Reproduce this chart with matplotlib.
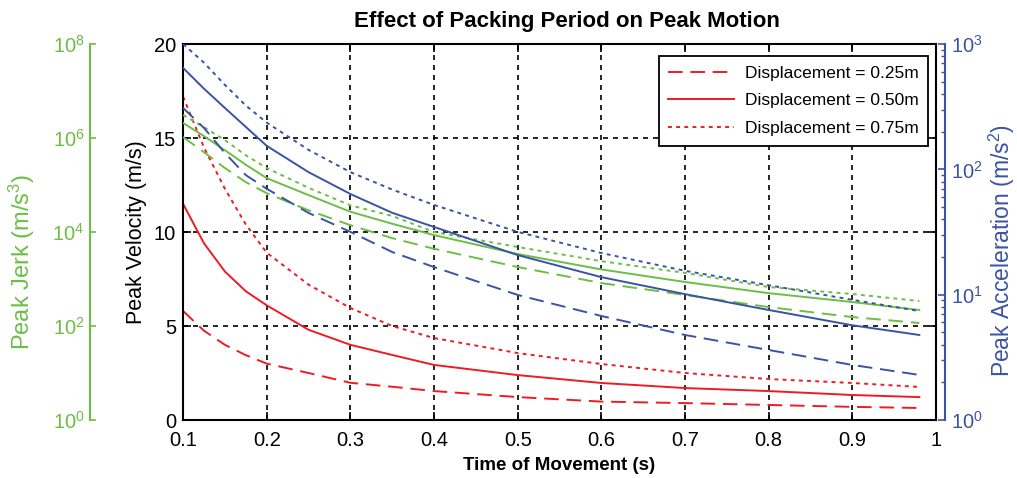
import matplotlib
matplotlib.use("Agg")
import matplotlib.pyplot as plt
from matplotlib.ticker import NullLocator, LogLocator, FixedLocator

plt.rcParams['font.family'] = ['Liberation Sans', 'DejaVu Sans']
plt.rcParams['mathtext.fontset'] = 'custom'
plt.rcParams['mathtext.rm'] = 'Liberation Sans'
plt.rcParams['mathtext.it'] = 'Liberation Sans'
plt.rcParams['mathtext.default'] = 'regular'

# time of movement (s)
t = [0.1, 0.125, 0.15, 0.175, 0.2, 0.25, 0.3, 0.35, 0.4, 0.5, 0.6, 0.7, 0.8, 0.9, 0.98]

# peak velocity (m/s) for 0.25, 0.50, 0.75 m
vel_025 = [5.8, 4.75, 4.0, 3.45, 3.0, 2.5, 1.98, 1.77, 1.54, 1.22, 0.98, 0.9, 0.8, 0.7, 0.64]
vel_050 = [11.5, 9.4, 7.9, 6.85, 6.1, 4.8, 4.0, 3.46, 2.93, 2.39, 1.97, 1.70, 1.54, 1.33, 1.22]
vel_075 = [17.2, 14.5, 12.3, 10.4, 8.9, 7.2, 5.96, 5.0, 4.36, 3.56, 2.98, 2.5, 2.18, 1.97, 1.76]

# peak acceleration (m/s^2)
acc_025 = [309, 214, 135, 90, 70, 44.9, 31.7, 21.9, 16.6, 9.95, 6.76, 4.77, 3.62, 2.75, 2.29]
acc_050 = [645, 440, 309, 218, 154, 95, 63.6, 45, 34.7, 20.7, 13.8, 10.1, 7.55, 5.7, 4.77]
acc_075 = [1000, 710, 472, 323, 236, 143, 95, 69, 52, 31.7, 21.5, 15.5, 11.9, 9.1, 7.4]

# peak jerk (m/s^3)
jerk_025 = [1.05e6, 5.0e5, 2.3e5, 1.15e5, 6.7e4, 2.9e4, 1.4e4, 7.4e3, 4.4e3, 1.8e3, 820, 457, 253, 155, 116]
jerk_050 = [2.09e6, 1.1e6, 5.5e5, 2.7e5, 1.4e5, 6.1e4, 2.7e4, 1.5e4, 8.6e3, 3.4e3, 1.6e3, 865, 500, 324, 219]
jerk_075 = [3.09e6, 1.7e6, 9.0e5, 4.3e5, 2.3e5, 8.7e4, 3.7e4, 2.2e4, 1.0e4, 4.8e3, 2.4e3, 1.35e3, 676, 479, 340]

labels = ['Displacement = 0.25m', 'Displacement = 0.50m', 'Displacement = 0.75m']
xticks = [0.1, 0.2, 0.3, 0.4, 0.5, 0.6, 0.7, 0.8, 0.9, 1.0]
xtick_labels = ['0.1', '0.2', '0.3', '0.4', '0.5', '0.6', '0.7', '0.8', '0.9', '1']

red = '#ED1C24'
blue = '#3A53A4'
green = '#6CBE45'
dashed = (0, (7.5, 4))
dotted = (0, (2, 2.2))
styles = [dashed, '-', dotted]

fig = plt.figure(figsize=(10.17, 4.78), dpi=100)
ax = fig.add_axes([0.18, 0.1213, 0.7404, 0.7866])

ax_j = ax.twinx()
ax_a = ax.twinx()

lines = []
for v, ls, lab in zip([vel_025, vel_050, vel_075], styles, labels):
    l, = ax.plot(t, v, color=red, lw=1.4, linestyle=ls, label=lab)
    lines.append(l)
for a, ls in zip([acc_025, acc_050, acc_075], styles):
    ax_a.plot(t, a, color=blue, lw=1.4, linestyle=ls)
for j, ls in zip([jerk_025, jerk_050, jerk_075], styles):
    ax_j.plot(t, j, color=green, lw=1.4, linestyle=ls)

# main axis
ax.set_xlim(0.1, 1)
ax.set_ylim(0, 20)
ax.set_xticks(xticks)
ax.set_xticklabels(xtick_labels)
ax.set_yticks([0, 5, 10, 15, 20])
ax.grid(True, color='k', linestyle=(0, (3, 3)), linewidth=1.2)
for s in ax.spines.values():
    s.set_linewidth(1.5)
    s.set_color('k')
ax.set_ylabel('Peak Velocity (m/s)', fontsize=15.5)
ax.yaxis.set_label_coords(-0.048, 0.5)
ax.set_xlabel('Time of Movement (s)', fontsize=13.5, fontweight='bold', labelpad=5)
ax.set_title('Effect of Packing Period on Peak Motion', fontsize=16,
             fontweight='bold', pad=12, x=0.51)

# jerk axis (far left)
ax_j.set_yscale('log')
ax_j.set_ylim(1, 1e8)
ax_j.yaxis.set_major_locator(FixedLocator([1e0, 1e2, 1e4, 1e6, 1e8]))
ax_j.yaxis.set_minor_locator(NullLocator())
ax_j.yaxis.set_ticks_position('left')
ax_j.yaxis.set_label_position('left')
for k in ['top', 'right', 'bottom']:
    ax_j.spines[k].set_visible(False)
ax_j.spines['left'].set_position(('axes', -0.1235))
ax_j.spines['left'].set_color(green)
ax_j.spines['left'].set_linewidth(1.5)
ax_j.tick_params(axis='y', direction='in', length=4, width=1.2,
                 colors=green, labelsize=14.5, pad=4)
ax_j.set_ylabel('Peak Jerk (m/s$^3$)', fontsize=17, color=green)
ax_j.yaxis.set_label_coords(-0.194, 0.42)

# acceleration axis (right)
ax_a.set_yscale('log')
ax_a.set_ylim(1, 1e3)
ax_a.yaxis.set_major_locator(LogLocator(base=10))
ax_a.yaxis.set_minor_locator(LogLocator(base=10, subs=range(2, 10)))
for k in ['top', 'left', 'bottom']:
    ax_a.spines[k].set_visible(False)
ax_a.spines['right'].set_position(('axes', 1.012))
ax_a.spines['right'].set_color(blue)
ax_a.spines['right'].set_linewidth(1.5)
ax_a.tick_params(axis='y', which='major', direction='in', length=5, width=1.2,
                 colors=blue, labelsize=14.5, pad=4)
ax_a.tick_params(axis='y', which='minor', direction='in', length=3, width=1.0,
                 colors=blue)
ax_a.set_ylabel('Peak Acceleration (m/s$^2$)', fontsize=16.5, color=blue)
ax_a.yaxis.set_label_coords(1.067, 0.45)

ax.tick_params(direction='in', length=6, width=1.2, labelsize=14.5,
               top=True, right=True)
ax.tick_params(axis='x', pad=8)
ax.tick_params(axis='y', pad=5)

leg = ax_a.legend(lines, labels, loc='upper right', fontsize=12.5,
                  bbox_to_anchor=(0.9894, 0.968), borderaxespad=0,
                  handlelength=3.8, handletextpad=0.6, labelspacing=0.72,
                  borderpad=0.55, fancybox=False, framealpha=1, edgecolor='k')
leg.get_frame().set_linewidth(1.3)

fig.savefig('out.png', dpi=100)
